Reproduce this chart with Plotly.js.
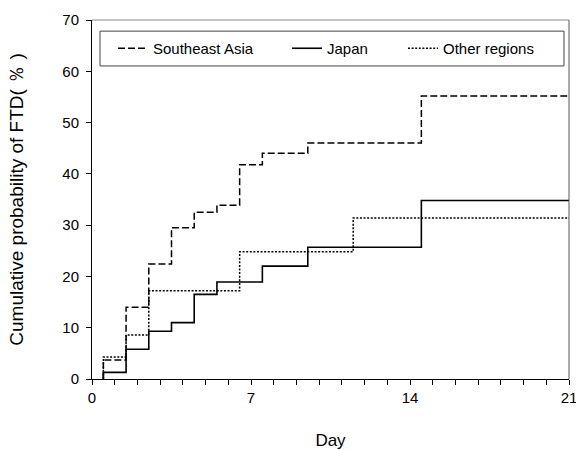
<!DOCTYPE html>
<html>
<head>
<meta charset="utf-8">
<script src="https://cdn.plot.ly/plotly-3.0.1.min.js"></script>
<style>html,body{margin:0;padding:0;background:#fff;}#chart{width:576px;height:450px;}</style>
</head>
<body>
<div id="chart"></div>
<script>
// Data (day of step, cumulative probability %)
const seaDays = [0.5, 1.5, 2.5, 3.5, 4.5, 5.5, 6.5, 7.5, 9.5, 14.5];
const seaPct = [3.7, 14.0, 22.4, 29.5, 32.5, 33.9, 41.8, 44.0, 46.0, 55.2];
const japanDays = [0.5, 1.5, 2.5, 3.5, 4.5, 5.5, 7.5, 9.5, 14.5];
const japanPct = [1.3, 5.8, 9.3, 11.0, 16.5, 18.9, 22.0, 25.7, 34.8];
const otherDays = [0.5, 1.5, 2.5, 6.5, 11.5];
const otherPct = [4.3, 8.6, 17.2, 24.8, 31.4];
const endDay = 21;
const seriesNames = ["Southeast Asia", "Japan", "Other regions"];
const xTickVals = [0, 7, 14, 21];
const yTickVals = [0, 10, 20, 30, 40, 50, 60, 70];

function stepXY(days, pct) {
  return {
    x: [days[0]].concat(days, [endDay]),
    y: [0].concat(pct, [pct[pct.length - 1]])
  };
}

const FONT = "Arial, 'Liberation Sans', sans-serif";
const s1 = stepXY(seaDays, seaPct);
const s2 = stepXY(japanDays, japanPct);
const s3 = stepXY(otherDays, otherPct);

const traces = [
  {x: s1.x, y: s1.y, name: seriesNames[0], mode: "lines", legend: "legend",
   line: {shape: "hv", color: "#000", width: 1.5, dash: "7px,3px"}},
  {x: s2.x, y: s2.y, name: seriesNames[1], mode: "lines", legend: "legend2",
   line: {shape: "hv", color: "#000", width: 1.6}},
  {x: s3.x, y: s3.y, name: seriesNames[2], mode: "lines", legend: "legend3",
   line: {shape: "hv", color: "#000", width: 1.5, dash: "2px,1.6px"}}
];

const legBase = {
  orientation: "h", yanchor: "middle", y: 0.9206, xanchor: "left",
  bgcolor: "rgba(0,0,0,0)", borderwidth: 0, itemwidth: 30,
  font: {family: FONT, size: 15, color: "#000"}
};

const layout = {
  width: 576, height: 450,
  margin: {l: 92, r: 7, t: 20, b: 71},
  paper_bgcolor: "#fff", plot_bgcolor: "#fff",
  font: {family: FONT, color: "#000"},
  showlegend: true,
  legend: Object.assign({}, legBase, {x: 0.044}),
  legend2: Object.assign({}, legBase, {x: 0.4088}),
  legend3: Object.assign({}, legBase, {x: 0.652}),
  xaxis: {
    range: [0, 21], tickvals: xTickVals, ticktext: xTickVals.map(String),
    ticks: "outside", ticklen: 5, tickwidth: 1, tickcolor: "#000",
    minor: {dtick: 1, tick0: 0, ticks: "outside", ticklen: 5, tickwidth: 1, tickcolor: "#000"},
    showline: true, linecolor: "#000", linewidth: 1,
    showgrid: false, zeroline: false, ticklabeloverflow: "allow",
    tickfont: {family: FONT, size: 15, color: "#000"},
    title: {text: "Day", font: {family: FONT, size: 17, color: "#000"}, standoff: 31}
  },
  yaxis: {
    range: [0, 70], tickvals: yTickVals, ticktext: yTickVals.map(String),
    ticks: "outside", ticklen: 5, tickwidth: 1, tickcolor: "#000",
    showline: true, linecolor: "#000", linewidth: 1,
    showgrid: false, zeroline: false, ticklabelstandoff: 4,
    tickfont: {family: FONT, size: 15, color: "#000"},
    title: {text: "Cumulative probability of FTD( ％ )", font: {family: FONT, size: 19, color: "#000"}, standoff: 33}
  },
  shapes: [
    {type: "line", xref: "paper", yref: "paper", x0: 0, x1: 1, y0: 1, y1: 1, line: {color: "#888", width: 1}},
    {type: "line", xref: "paper", yref: "paper", x0: 1, x1: 1, y0: 0, y1: 1, line: {color: "#555", width: 1}},
    {type: "rect", xref: "paper", yref: "paper", x0: 0.0168, x1: 0.9895, y0: 0.872, y1: 0.969,
     line: {color: "#444", width: 1}, fillcolor: "rgba(0,0,0,0)"}
  ]
};

Plotly.newPlot("chart", traces, layout, {displayModeBar: false, staticPlot: true});
</script>
</body>
</html>
